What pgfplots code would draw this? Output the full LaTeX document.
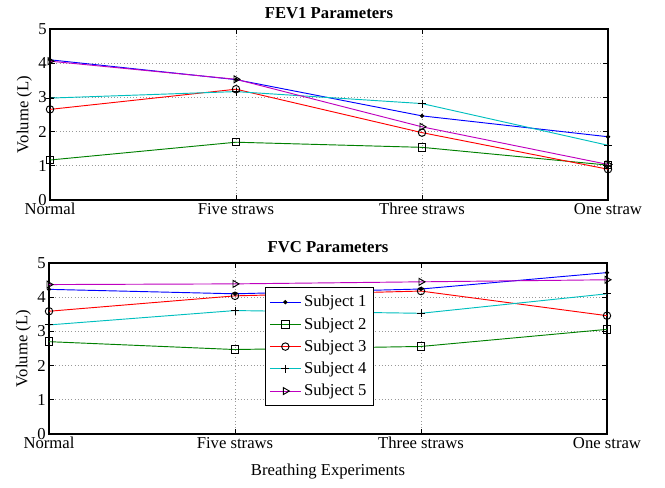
\documentclass[border=0pt]{standalone}
\usepackage{pgfplots}
\pgfplotsset{compat=1.18}
\usepackage{fontspec}
\setmainfont{Liberation Serif}
\definecolor{mcyan}{rgb}{0,0.75,0.75}
\definecolor{mmag}{rgb}{0.75,0,0.75}
\definecolor{mgreen}{rgb}{0,0.5,0}
\pgfplotsset{
  mstyle/.style={
    scale only axis,
    width=558*0.75pt, height=171*0.75pt,
    xmin=0, xmax=3, ymin=0, ymax=5,
    xtick={0,1,2,3},
    xticklabels={Normal,Five straws,Three straws,One straw},
    ytick={0,1,2,3,4,5},
    tick align=inside,
    tick pos=both,
    major tick length=4pt,
    every tick/.style={black, line width=0.5pt},
    grid=major,
    grid style={dotted, gray!80, line width=0.5pt},
    axis line style={black, line width=0.9pt},
    /pgf/number format/assume math mode=true,
    tick label style={font=\fontsize{12.5}{14}\selectfont},
    label style={font=\fontsize{12.5}{14}\selectfont},
    title style={font=\bfseries\fontsize{12.5}{14}\selectfont, yshift=-2pt},
    xticklabel style={yshift=1pt},
    yticklabel style={xshift=1pt},
    ylabel style={yshift=-2pt},
    every axis plot/.append style={line width=0.7pt},
  },
  s1/.style={blue, mark=*, mark size=1.2pt, mark options={black, fill=black}},
  s2/.style={mgreen, mark=square, mark size=2.8pt, mark options={black, fill=none}},
  s3/.style={red, mark=o, mark size=2.8pt, mark options={black, fill=none}},
  s4/.style={mcyan, mark=+, mark size=3pt, mark options={black}},
  s5/.style={mmag, mark=triangle, mark size=3pt, mark options={black, fill=none, rotate=-90}},
}
\begin{document}
\begin{tikzpicture}
\useasboundingbox (0,0) rectangle (665*0.75pt,-487*0.75pt);
\begin{axis}[mstyle, at={(50*0.75pt,-200*0.75pt)}, anchor=south west,
  title={FEV1 Parameters}, ylabel={Volume (L)}]
\addplot[s1] coordinates {(0,4.10) (1,3.52) (2,2.46) (3,1.85)};
\addplot[s2] coordinates {(0,1.17) (1,1.69) (2,1.54) (3,1.02)};
\addplot[s3] coordinates {(0,2.65) (1,3.24) (2,1.97) (3,0.90)};
\addplot[s4] coordinates {(0,2.98) (1,3.17) (2,2.82) (3,1.60)};
\addplot[s5] coordinates {(0,4.06) (1,3.53) (2,2.14) (3,1.04)};
\end{axis}
\begin{axis}[mstyle, at={(49*0.75pt,-434*0.75pt)}, anchor=south west,
  title={FVC Parameters}, ylabel={Volume (L)}, xlabel={Breathing Experiments},
  xlabel style={yshift=-4pt},
  legend style={at={(0.387,0.86)}, anchor=north west, draw=black, line width=0.6pt,
    font=\fontsize{12.5}{14}\selectfont, row sep=2.5pt, inner xsep=3pt, inner ysep=4pt},
  legend cell align=left,
  legend image post style={mark indices={2}},
  legend image code/.code={\draw[#1] plot coordinates {(0cm,0cm) (0.41cm,0cm) (0.82cm,0cm)};},
  ]
\addplot[s1] coordinates {(0,4.23) (1,4.10) (2,4.24) (3,4.72)};
\addplot[s2] coordinates {(0,2.70) (1,2.47) (2,2.56) (3,3.06)};
\addplot[s3] coordinates {(0,3.59) (1,4.04) (2,4.18) (3,3.46)};
\addplot[s4] coordinates {(0,3.19) (1,3.61) (2,3.53) (3,4.10)};
\addplot[s5] coordinates {(0,4.37) (1,4.39) (2,4.45) (3,4.51)};
\legend{Subject 1,Subject 2,Subject 3,Subject 4,Subject 5}
\end{axis}
\end{tikzpicture}
\end{document}
